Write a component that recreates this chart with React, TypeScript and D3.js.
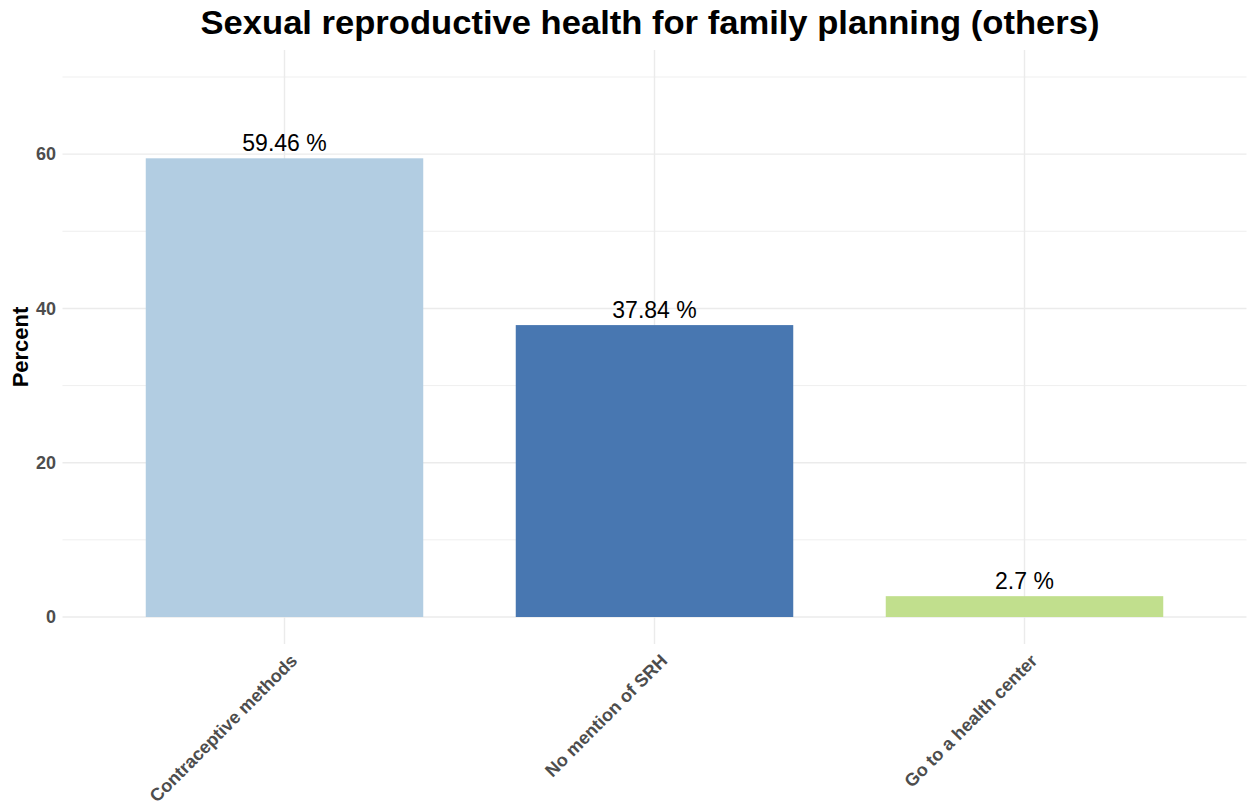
import React from "react";
import * as d3 from "d3";

const categories = ["Contraceptive methods", "No mention of SRH", "Go to a health center"];
const values = [59.46, 37.84, 2.7];
const colors = ["#b2cde2", "#4877b1", "#c1df8d"];
const yTicks = [0, 20, 40, 60];
const yMinor = [10, 30, 50, 70];

const W = 1254, H = 804;
const left = 62.5, right = 1246.5, top = 50, bottom = 644;

export default function App() {
  const x = d3.scaleLinear().domain([0.4, 3.6]).range([left, right]);
  const y = d3.scaleLinear().domain([-3.5, 73.5]).range([bottom, top]);
  const bw = 0.75;
  const font = "'Liberation Sans', Arial, Helvetica, sans-serif";
  return (
    <svg width={W} height={H} style={{ position: "absolute", left: 0, top: 0 }} fontFamily={font}>
      <rect width={W} height={H} fill="#fff" />
      {yMinor.map((t) => (
        <line key={"m" + t} x1={left} x2={right} y1={y(t)} y2={y(t)} stroke="#ebebeb" strokeWidth={0.8} />
      ))}
      {yTicks.map((t) => (
        <line key={"g" + t} x1={left} x2={right} y1={y(t)} y2={y(t)} stroke="#ebebeb" strokeWidth={1.4} />
      ))}
      {categories.map((c, i) => (
        <line key={"v" + i} x1={x(i + 1)} x2={x(i + 1)} y1={top} y2={bottom} stroke="#ebebeb" strokeWidth={1.4} />
      ))}
      {categories.map((c, i) => (
        <rect key={"b" + i} x={x(i + 1 - bw / 2)} width={x(i + 1 + bw / 2) - x(i + 1 - bw / 2)}
          y={y(values[i])} height={y(0) - y(values[i])} fill={colors[i]} />
      ))}
      {categories.map((c, i) => (
        <text key={"l" + i} x={x(i + 1)} y={y(values[i]) - 7} textAnchor="middle" fontSize={23} fill="#000">
          {values[i] + " %"}
        </text>
      ))}
      {yTicks.map((t) => (
        <text key={"t" + t} x={56} y={y(t)} dy="0.35em" textAnchor="end" fontSize={18} fontWeight="bold" fill="#4d4d4d">
          {t}
        </text>
      ))}
      {categories.map((c, i) => (
        <text key={"x" + i} transform={`translate(${x(i + 1) + 5},${653}) rotate(-45)`} textAnchor="end"
          dy="0.7em" fontSize={18} fontWeight="bold" fill="#4d4d4d">
          {c}
        </text>
      ))}
      <text transform={`translate(28,${(top + bottom) / 2}) rotate(-90)`} textAnchor="middle" fontSize={22} fontWeight="bold" fill="#000">
        Percent
      </text>
      <text x={650} y={34} textAnchor="middle" fontSize={33} fontWeight="bold" fill="#000"
        textLength={899} lengthAdjust="spacingAndGlyphs">
        Sexual reproductive health for family planning (others)
      </text>
    </svg>
  );
}
